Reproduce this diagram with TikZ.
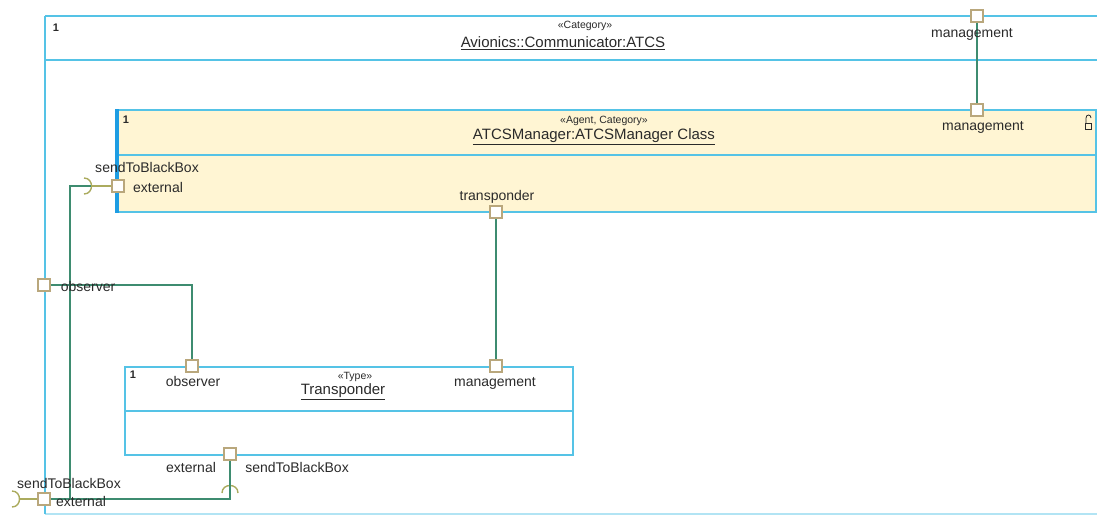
\documentclass[tikz,border=0pt]{standalone}
\usepackage{fontspec}
\setmainfont{Liberation Sans}
\definecolor{frameblue}{HTML}{55C3E6}
\definecolor{activeblue}{HTML}{1E9DE3}
\definecolor{partfill}{HTML}{FFF5D3}
\definecolor{wire}{HTML}{3E8C70}
\definecolor{portedge}{HTML}{B9A77C}
\definecolor{socketc}{HTML}{ABAB5E}
\definecolor{ink}{HTML}{2A2A2A}
\begin{document}
\begin{tikzpicture}[x=1pt,y=-1pt,
  frame/.style={draw=frameblue, line width=1.4pt},
  conn/.style={draw=wire, line width=1.3pt},
  stub/.style={draw=socketc, line width=1.4pt},
  port/.style={draw=portedge, fill=white, line width=1.1pt, minimum size=12pt, inner sep=0pt, rectangle},
  lbl/.style={text=ink, inner sep=0pt, font=\fontsize{14}{16}\selectfont},
  ttl/.style={text=ink, inner sep=0pt, font=\fontsize{15}{17}\selectfont},
  stereo/.style={text=ink, inner sep=0pt, font=\fontsize{10.5}{12}\selectfont},
  mult/.style={text=ink, inner sep=0pt, font=\fontsize{11}{13}\selectfont\bfseries}]
\useasboundingbox (0,0) rectangle (1097,520);
\clip (0,0) rectangle (1097,520);

% enclosing category part
\draw[frame] (45,16) -- (1110,16);
\draw[frame] (45,514) -- (45,16);
\draw[frame, draw opacity=0.45] (45,514) -- (1110,514);
\draw[frame] (45,60) -- (1110,60);

% ATCSManager part
\fill[partfill] (117,110) rectangle (1096,212);
\draw[frame] (117,110) rectangle (1096,212);
\draw[frame] (117,155) -- (1096,155);
\draw[draw=activeblue, line width=4pt] (117,109) -- (117,213);

% Transponder part
\draw[frame] (125,367) rectangle (573,455);
\draw[frame] (125,411) -- (573,411);

% open padlock
\draw[draw=ink, line width=0.8pt] (1085,123) rectangle (1091,129);
\draw[draw=ink, line width=0.8pt] (1086,123) -- (1086,118) .. controls (1086,114) and (1091,114) .. (1091,118);

% ports
\node[port] (outMgmt) at (977,16) {};
\node[port] (atcsMgmt) at (977,110) {};
\node[port] (atcsTrans) at (496,212) {};
\node[port] (atcsExt) at (118,186) {};
\node[port] (outObs) at (44,285) {};
\node[port] (outExt) at (44,499) {};
\node[port] (trObs) at (192,366) {};
\node[port] (trMgmt) at (496,366) {};
\node[port] (trExt) at (230,454) {};

% sockets of required interfaces
\coordinate (atcsSock) at (91,186);
\coordinate (outSock) at (19,499);
\coordinate (trSock) at (230,485);
\coordinate (jn) at (70,499);
\draw[stub] (atcsExt.west) -- (atcsSock);
\draw[stub] (84,178) .. controls (94,178) and (94,194) .. (84,194);
\draw[stub] (outExt.west) -- (outSock);
\draw[stub] (12,491) .. controls (22,491) and (22,507) .. (12,507);
\draw[stub] (222,493) .. controls (222,483) and (238,483) .. (238,493);

% connectors
\draw[conn] (outMgmt) -- (atcsMgmt);
\draw[conn] (atcsTrans) -- (trMgmt);
\draw[conn] (outObs) -| (trObs);
\draw[conn] (outExt) -| (trExt);
\draw[conn] (atcsSock) -| (jn);

% ports drawn over the wires
\foreach \p in {outMgmt,atcsMgmt,atcsTrans,atcsExt,outObs,outExt,trObs,trMgmt,trExt}
  \node[port] at (\p) {};

% headings
\node[mult] (m1) at (56,28) {1};
\node[stereo] (s1) at (585,26) {«Category»};
\node[ttl] (t1) at (563,43) {\underline{Avionics::Communicator:ATCS}};
\node[mult] (m2) at (126,120) {1};
\node[stereo] (s2) at (604,121) {«Agent, Category»};
\node[ttl] (t2) at (594,137) {\underline{ATCSManager:ATCSManager Class}};
\node[mult] (m3) at (133,375) {1};
\node[stereo] (s3) at (355,377) {«Type»};
\node[ttl] (t3) at (343,392) {\underline{Transponder}};

% port labels
\node[lbl] (lOutMgmt) at (972,34) {management};
\node[lbl] (lAtcsMgmt) at (983,127) {management};
\node[lbl] (lAtcsSend) at (147,167) {sendToBlackBox};
\node[lbl] (lAtcsExt) at (158,187) {external};
\node[lbl] (lTrans) at (497,197) {transponder};
\node[lbl] (lOutObs) at (88,286) {observer};
\node[lbl] (lTrObs) at (193,381) {observer};
\node[lbl] (lTrMgmt) at (495,383) {management};
\node[lbl] (lTrExt) at (191,467) {external};
\node[lbl] (lTrSend) at (297,467) {sendToBlackBox};
\node[lbl] (lOutSend) at (69,483) {sendToBlackBox};
\node[lbl] (lOutExt) at (81,501) {external};
\end{tikzpicture}
\end{document}
